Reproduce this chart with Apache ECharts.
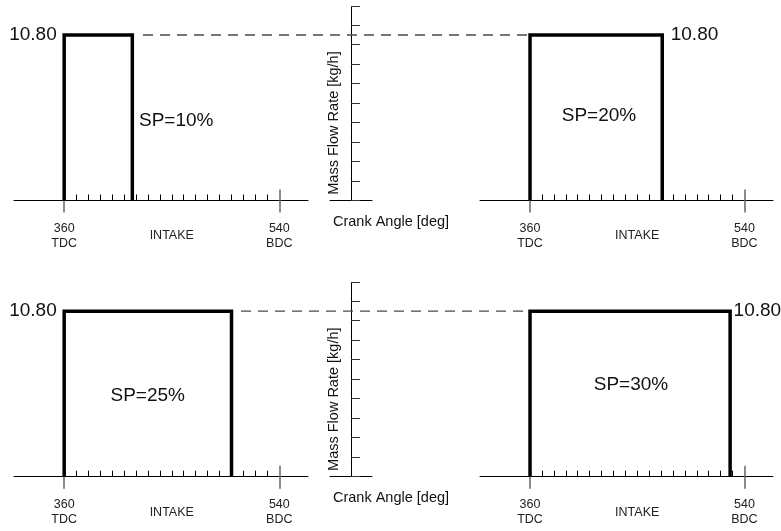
<!DOCTYPE html>
<html><head><meta charset="utf-8">
<script src="https://cdn.jsdelivr.net/npm/echarts@6/dist/echarts.min.js"></script>
<style>html,body{margin:0;padding:0;background:#fff}#c{width:781px;height:531px}</style>
</head><body><div id="c"></div>
<script>
// ---- data ----
const spLabels = ['SP=10%', 'SP=20%', 'SP=25%', 'SP=30%'];
const openAngle = [360, 360, 360, 360];
const closeAngle = [417, 471, 500, 528];
const peakFlow = [10.8, 10.8, 10.8, 10.8];
const peakText = ['10.80', '10.80', '10.80', '10.80'];
const refFlow = 10.8;
const minorTickAngles = [370, 380, 390, 400, 410, 420, 430, 440, 450, 460, 470, 480, 490, 500, 510, 520, 530];
const majorTickAngles = [360, 540];
const labelAngles = [360, 450, 540];
const labelTexts = ['360\nTDC', 'INTAKE', '540\nBDC'];
const yAxisTitle = 'Mass Flow Rate [kg/h]';
const xAxisTitle = 'Crank Angle [deg]';

// ---- layout ----
const FONT = "'Liberation Sans', Arial, Helvetica, sans-serif";
const rowAxisY = [200.5, 476.7];
const panelLeft = [14, 480];
const panelWidth = [294, 293];
const X_MIN = 318, X_MAX = 564, Y_MAX = 12, PANEL_H = 183.9;
const CENTER_LEFT = 330, CENTER_W = 42, CENTER_H = 194, CENTER_MAX = 9.95;
const guideLeft = [143, 241], GUIDE_RIGHT_EDGE = 529;
const peakLabelDist = [7, 8, 7, 3];
const spPos = [
  {x: 139, y: 120.7, align: 'left'},
  {x: 599, y: 116, align: 'center'},
  {x: 147.7, y: 396, align: 'center'},
  {x: 631, y: 384.3, align: 'center'}
];

const grids = [], xAxes = [], yAxes = [], series = [], graphics = [];

function addGrid(g) { grids.push(g); return grids.length - 1; }

for (let p = 0; p < 4; p++) {
  const row = Math.floor(p / 2), side = p % 2;
  const gi = addGrid({left: panelLeft[side], width: panelWidth[side], top: rowAxisY[row] - PANEL_H, height: PANEL_H});
  yAxes.push({gridIndex: gi, type: 'value', min: 0, max: Y_MAX, show: false});
  const yi = yAxes.length - 1;
  // minor ticks + axis line
  xAxes.push({gridIndex: gi, type: 'value', position: 'bottom', min: X_MIN, max: X_MAX,
    axisLine: {show: true, onZero: false, lineStyle: {color: '#000', width: 1}},
    axisTick: {show: true, inside: true, length: 6, customValues: minorTickAngles, lineStyle: {color: '#000', width: 1}},
    axisLabel: {show: false}, splitLine: {show: false}});
  const xi = xAxes.length - 1;
  // major ticks upward
  xAxes.push({gridIndex: gi, type: 'value', position: 'bottom', min: X_MIN, max: X_MAX,
    axisLine: {show: false, onZero: false},
    axisTick: {show: true, inside: true, length: 11, customValues: majorTickAngles, lineStyle: {color: '#666', width: 1.5}},
    axisLabel: {show: false}, splitLine: {show: false}});
  // major ticks downward + labels
  xAxes.push({gridIndex: gi, type: 'value', position: 'bottom', min: X_MIN, max: X_MAX,
    axisLine: {show: false, onZero: false},
    axisTick: {show: true, inside: false, length: 12, customValues: majorTickAngles, lineStyle: {color: '#666', width: 1.5}},
    axisLabel: {show: true, customValues: labelAngles, margin: 21, color: '#222', fontSize: 12.5, fontFamily: FONT, lineHeight: 14.5,
      formatter: v => { const t = labelTexts[labelAngles.indexOf(v)]; return t === 'INTAKE' ? '{i|' + t + '}' : t; },
      rich: {i: {fontSize: 12.5, fontFamily: FONT, color: '#222', lineHeight: 29}}},
    splitLine: {show: false}});

  const pts = [[openAngle[p], 0], [openAngle[p], peakFlow[p]], [closeAngle[p], peakFlow[p]], [closeAngle[p], 0]];
  const labIdx = side === 0 ? 1 : 2;
  const data = pts.map((pt, i) => i === labIdx ? {value: pt, label: {show: true, position: side === 0 ? 'left' : 'right', distance: peakLabelDist[p],
    formatter: peakText[p], fontSize: 19, fontFamily: FONT, color: '#111'}} : {value: pt});
  series.push({type: 'line', xAxisIndex: xi, yAxisIndex: yi, data, symbol: 'circle', symbolSize: 1, showSymbol: true,
    itemStyle: {color: 'rgba(0,0,0,0)'}, lineStyle: {color: '#000', width: 3.5, join: 'miter', cap: 'butt'}, z: 5,
    label: {show: false}, emphasis: {disabled: true}, silent: true});

  graphics.push({type: 'text', x: spPos[p].x, y: spPos[p].y, style: {text: spLabels[p], fontSize: 19, fontFamily: FONT, fill: '#111',
    align: spPos[p].align, textAlign: spPos[p].align, verticalAlign: 'middle', textVerticalAlign: 'middle'}});
}

for (let row = 0; row < 2; row++) {
  // centre axis
  const gc = addGrid({left: CENTER_LEFT, width: CENTER_W, top: rowAxisY[row] - CENTER_H, height: CENTER_H});
  xAxes.push({gridIndex: gc, type: 'value', min: -1, max: 1, axisLine: {show: true, onZero: true, lineStyle: {color: '#000', width: 1}},
    axisTick: {show: false}, axisLabel: {show: false}, splitLine: {show: false}});
  yAxes.push({gridIndex: gc, type: 'value', min: 0, max: CENTER_MAX, interval: 1,
    axisLine: {show: true, onZero: true, lineStyle: {color: '#000', width: 1}},
    axisTick: {show: true, inside: true, length: 9, lineStyle: {color: '#333', width: 1}},
    axisLabel: {show: false}, splitLine: {show: false}});
  // dashed reference line
  const gg = addGrid({left: guideLeft[row], width: GUIDE_RIGHT_EDGE - guideLeft[row], top: rowAxisY[row] - PANEL_H, height: PANEL_H});
  xAxes.push({gridIndex: gg, type: 'value', min: 0, max: 1, show: false});
  yAxes.push({gridIndex: gg, type: 'value', min: 0, max: Y_MAX, show: false});
  series.push({type: 'line', xAxisIndex: xAxes.length - 1, yAxisIndex: yAxes.length - 1, data: [[0, refFlow], [1, refFlow]],
    symbol: 'none', lineStyle: {color: '#4a4a4a', width: 1.3, type: [10, 7]}, z: 1, silent: true});

  const cy = rowAxisY[row];
  graphics.push({type: 'text', x: 333.5, y: cy - 77.5, rotation: Math.PI / 2, style: {text: yAxisTitle, fontSize: 14.5, fontFamily: FONT, fill: '#111',
    align: 'center', textAlign: 'center', verticalAlign: 'middle', textVerticalAlign: 'middle'}});
  graphics.push({type: 'text', x: 391, y: cy + 21.5, style: {text: xAxisTitle, fontSize: 14.5, fontFamily: FONT, fill: '#111',
    align: 'center', textAlign: 'center', verticalAlign: 'middle', textVerticalAlign: 'middle'}});
}

const chart = echarts.init(document.getElementById('c'), null, {renderer: 'canvas'});
chart.setOption({
  animation: false,
  backgroundColor: '#fff',
  grid: grids,
  xAxis: xAxes,
  yAxis: yAxes,
  series: series,
  graphic: graphics
});
</script></body></html>
